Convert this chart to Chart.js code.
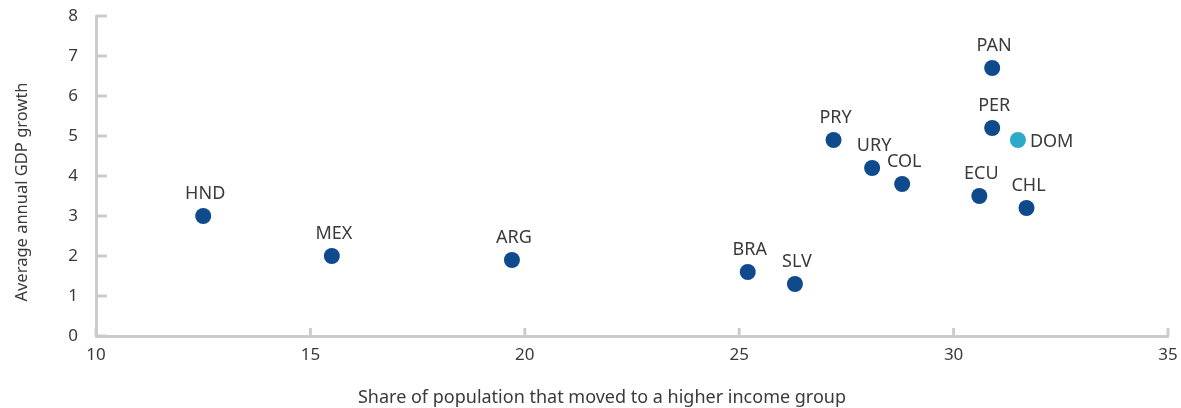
<!DOCTYPE html>
<html>
<head>
<meta charset="utf-8">
<script src="https://cdn.jsdelivr.net/npm/chart.js@4"></script>
<style>
    html, body { margin: 0; padding: 0; background: #fff; }
    #wrap { width: 1181px; height: 408px; }
</style>
</head>
<body>
<div id="wrap"><canvas id="chart"></canvas></div>
<script>
// Data
const countries = ['HND', 'MEX', 'ARG', 'BRA', 'SLV', 'PRY', 'URY', 'COL', 'ECU', 'PAN', 'PER', 'DOM', 'CHL'];
const shareMoved = [12.5, 15.5, 19.7, 25.2, 26.3, 27.2, 28.1, 28.8, 30.6, 30.9, 30.9, 31.5, 31.7];
const gdpGrowth = [3.0, 2.0, 1.9, 1.6, 1.3, 4.9, 4.2, 3.8, 3.5, 6.7, 5.2, 4.9, 3.2];
const highlight = ['DOM'];
const labelSide = { DOM: 'right' };
const xTitle = 'Share of population that moved to a higher income group';
const yTitle = 'Average annual GDP growth';

// Colors
const colors = {
    dark: '#0e4a8c',
    light: '#2ea9c9',
    axis: '#cccccc',
    text: '#3a3a3a'
};

const FONT = "'Noto Sans', Lato, sans-serif";

const points = countries.map((c, i) => ({ x: shareMoved[i], y: gdpGrowth[i], label: c }));
const pointColors = countries.map(c => highlight.includes(c) ? colors.light : colors.dark);

// country labels next to each dot
const labelPlugin = {
    id: 'countryLabels',
    afterDatasetsDraw(chart) {
        const ctx = chart.ctx;
        const meta = chart.getDatasetMeta(0);
        ctx.save();
        ctx.font = '18px ' + FONT;
        ctx.fillStyle = colors.text;
        meta.data.forEach((el, i) => {
            const name = countries[i];
            if (labelSide[name] === 'right') {
                ctx.textAlign = 'left';
                ctx.textBaseline = 'middle';
                ctx.fillText(name, el.x + 12, el.y + 2);
            } else {
                ctx.textAlign = 'center';
                ctx.textBaseline = 'bottom';
                ctx.fillText(name, el.x + 2, el.y - 13);
            }
        });
        ctx.restore();
    }
};

// tick marks pointing into the plot area, plus both axis titles
const innerTicks = {
    id: 'innerTicks',
    afterDraw(chart) {
        const ctx = chart.ctx;
        const xs = chart.scales.x, ys = chart.scales.y;
        ctx.save();
        ctx.strokeStyle = colors.axis;
        ctx.lineWidth = 3;
        ys.ticks.forEach(t => {
            const py = ys.getPixelForValue(t.value);
            ctx.beginPath();
            ctx.moveTo(xs.left, py);
            ctx.lineTo(xs.left + 11, py);
            ctx.stroke();
        });
        xs.ticks.forEach(t => {
            const px = xs.getPixelForValue(t.value);
            ctx.beginPath();
            ctx.moveTo(px, ys.bottom);
            ctx.lineTo(px, ys.bottom - 8);
            ctx.stroke();
        });
        ctx.fillStyle = colors.text;
        ctx.textAlign = 'center';
        ctx.textBaseline = 'middle';
        ctx.font = '18px ' + FONT;
        ctx.fillText(xTitle, xs.getPixelForValue(21.8), 398);
        // rotated y title
        ctx.translate(22, ys.getPixelForValue(3.6));
        ctx.rotate(-Math.PI / 2);
        ctx.font = '16.5px ' + FONT;
        ctx.fillText(yTitle, 0, 0);
        ctx.restore();
    }
};

new Chart(document.getElementById('chart').getContext('2d'), {
    type: 'scatter',
    data: {
        datasets: [{
            data: points,
            backgroundColor: pointColors,
            borderWidth: 0,
            pointRadius: 8,
            pointHoverRadius: 8
        }]
    },
    options: {
        responsive: true,
        maintainAspectRatio: false,
        animation: false,
        layout: { padding: { top: 16, right: 13, left: 0, bottom: 0 } },
        scales: {
            x: {
                min: 10,
                max: 35,
                ticks: { stepSize: 5, color: colors.text, padding: 9, font: { family: FONT, size: 17 } },
                grid: { display: false, drawTicks: false },
                border: { color: colors.axis, width: 3 },
                afterFit(scale) {
                    scale.height = 72;
                    scale.paddingLeft = 0;
                    scale.paddingRight = 0;
                }
            },
            y: {
                min: 0,
                max: 8,
                ticks: { stepSize: 1, color: colors.text, padding: 18, font: { family: FONT, size: 17 } },
                grid: { display: false, drawTicks: false },
                border: { color: colors.axis, width: 3 },
                afterFit(scale) {
                    scale.width = 96;
                    scale.paddingTop = 0;
                    scale.paddingBottom = 0;
                }
            }
        },
        plugins: {
            legend: { display: false },
            tooltip: { enabled: false }
        }
    },
    plugins: [labelPlugin, innerTicks]
});
</script>
</body>
</html>
